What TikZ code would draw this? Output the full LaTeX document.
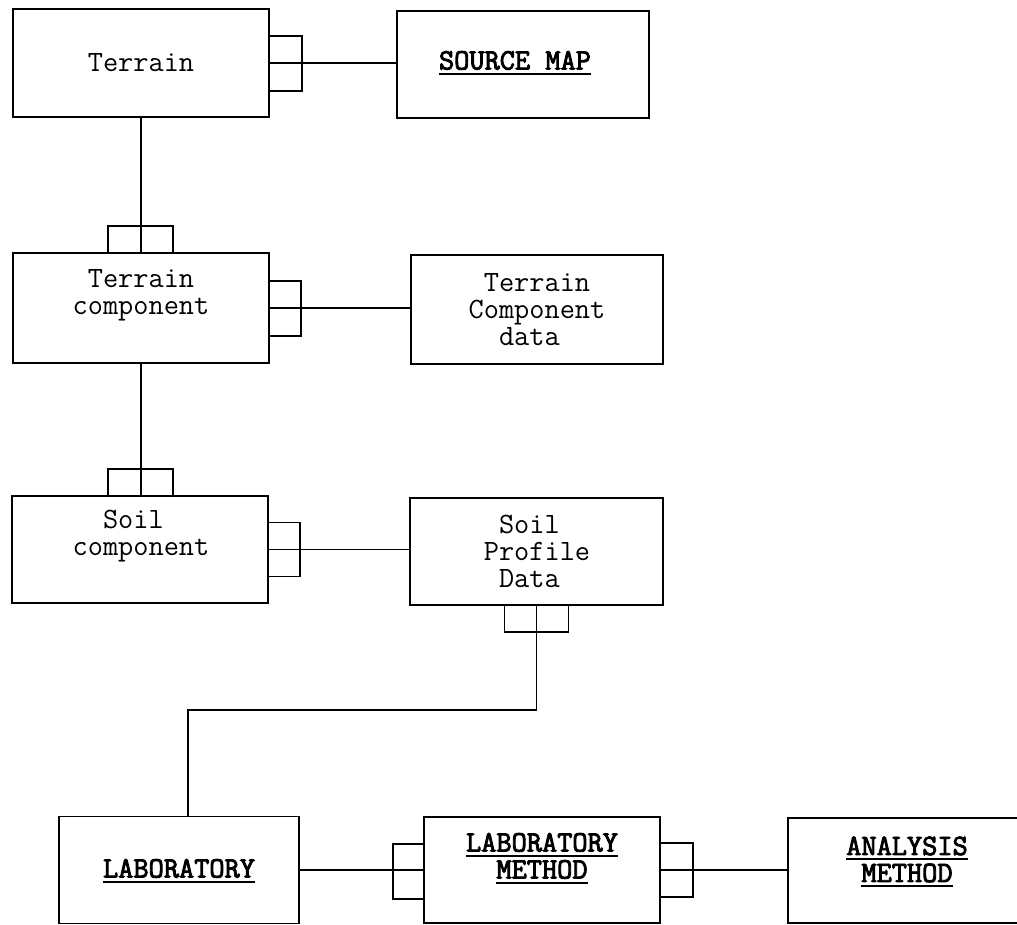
\documentclass[tikz,border=0pt]{standalone}
\usepackage{fontspec}
\newfontfamily\kbold{Latin Modern Mono}[FakeBold=3]
\usetikzlibrary{calc}
\newcommand{\myul}[1]{\setbox0=\hbox{#1}\rlap{\rule[-5.5pt]{\wd0}{2.4pt}}\box0}
\tikzset{
  box/.style={draw, line width=1.7pt, inner sep=0pt, outer sep=0pt},
  marker/.style={draw, line width=1.7pt},
  conn/.style={line width=1.7pt},
  lbl/.style={inner sep=0pt, align=center, font=\ttfamily\fontsize{29.5}{27}\selectfont},
  klbl/.style={inner sep=0pt, align=center, font=\kbold\fontsize{29.5}{27}\selectfont},
}
\begin{document}
\begin{tikzpicture}[x=1pt,y=-1pt]
\useasboundingbox (0,0) rectangle (1017,924);
\fill[white] (0,0) rectangle (1017,924);
\clip (0,0) rectangle (1017,924);

% boxes
\node[box, minimum width=256pt, minimum height=108pt] (terrain) at (141,63) {};
\node[box, minimum width=252pt, minimum height=107pt] (source) at (523,64.5) {};
\node[box, minimum width=256pt, minimum height=110pt] (tc) at (141,308) {};
\node[box, minimum width=252pt, minimum height=109pt] (tcd) at (537,309.5) {};
\node[box, minimum width=256pt, minimum height=107pt] (sc) at (140,549.5) {};
\node[box, minimum width=253pt, minimum height=107pt] (spd) at (536.5,551.5) {};
\node[box, minimum width=240pt, minimum height=107pt] (lab) at (179,870) {};
\node[box, minimum width=236pt, minimum height=106pt] (lm) at (542,870) {};
\node[box, minimum width=238pt, minimum height=105pt] (am) at (907,870.5) {};

% labels
\node[lbl] (terrainT) at (141,63) {Terrain};
\node[klbl] (sourceT) at (515,63) {\myul{SOURCE MAP}};
\node[lbl] (tcT) at (141,295) {Terrain\\component};
\node[lbl] (tcdT) at (537,310) {Terrain\\Component\\data\hphantom{x}};
\node[lbl] (scT) at (141,536.5) {Soil\hphantom{x}\\component};
\node[lbl] (spdT) at (537,551) {Soil\hphantom{x}\\Profile\\Data\hphantom{x}};
\node[klbl] (labT) at (179,871) {\myul{LABORATORY}};
\node[klbl] (lmT) at (542,858.5) {\myul{LABORATORY}\\\myul{METHOD}};
\node[klbl] (amT) at (907,862) {\myul{ANALYSIS}\\\myul{METHOD}};

% markers
\draw[marker] ($(terrain.east)+(0,-27)$) rectangle ++(33,55);
\draw[marker] ($(tc.north)+(-33,-27)$) rectangle ++(65,27);
\draw[marker] ($(tc.east)+(0,-27)$) rectangle ++(32,55);
\draw[marker] ($(sc.north)+(-32,-27)$) rectangle ++(65,27);
\draw[marker] ($(sc.east)+(0,-27)$) rectangle ++(32,54);
\draw[marker] ($(spd.south)+(-32,0)$) rectangle ++(64,27);
\draw[marker] ($(lm.west)+(-31,-26)$) rectangle ++(31,55);
\draw[marker] ($(lm.east)+(0,-27)$) rectangle ++(33,54);

% connectors
\coordinate (elbow) at (188,710);
\draw[conn] (terrain.east) -- (terrain.east -| source.west);
\draw[conn] (terrain.south) -- (terrain.south |- tc.north);
\draw[conn] (tc.east) -- (tc.east -| tcd.west);
\draw[conn] (tc.south) -- (tc.south |- sc.north);
\draw[conn] (sc.east) -- (sc.east -| spd.west);
\draw[conn] (spd.south) |- (elbow) -- (elbow |- lab.north);
\draw[conn] (lab.east) -- (lab.east -| lm.west);
\draw[conn] (lm.east) -- (lm.east -| am.west);
\end{tikzpicture}
\end{document}
